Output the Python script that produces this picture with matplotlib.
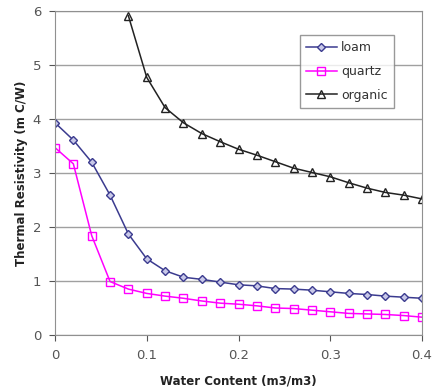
import numpy as np
import matplotlib.pyplot as plt

# water content values (m3/m3)
water = [0.00, 0.02, 0.04, 0.06, 0.08, 0.10, 0.12, 0.14, 0.16, 0.18, 0.20,
         0.22, 0.24, 0.26, 0.28, 0.30, 0.32, 0.34, 0.36, 0.38, 0.40]

loam = [3.93, 3.61, 3.20, 2.59, 1.87, 1.41, 1.19, 1.07, 1.03, 0.98, 0.93,
        0.91, 0.86, 0.85, 0.83, 0.80, 0.77, 0.75, 0.72, 0.70, 0.68]

quartz = [3.47, 3.17, 1.84, 0.99, 0.85, 0.77, 0.72, 0.68, 0.63, 0.59, 0.57,
          0.54, 0.50, 0.49, 0.46, 0.43, 0.40, 0.39, 0.38, 0.36, 0.33]

# organic starts at 0.08
organic_x = water[4:]
organic = [5.91, 4.77, 4.21, 3.93, 3.73, 3.58, 3.44, 3.33, 3.21, 3.09,
           3.01, 2.93, 2.82, 2.72, 2.64, 2.59, 2.52]

fig = plt.figure(figsize=(4.33, 3.92), dpi=100)
ax = fig.add_axes([55/433, 1 - 335/392, 367/433, 324/392])

ax.plot(water, loam, color='#3b3b8f', marker='D', markersize=4,
        markerfacecolor='#c8c8e8', markeredgecolor='#3b3b8f', lw=1.1, label='loam')
ax.plot(water, quartz, color='#ff00ff', marker='s', markersize=5.5,
        markerfacecolor='none', markeredgecolor='#ff00ff', lw=1.1, label='quartz')
ax.plot(organic_x, organic, color='#222222', marker='^', markersize=5.5,
        markerfacecolor='none', markeredgecolor='#222222', lw=1.1, label='organic')

ax.set_xlim(0, 0.4)
ax.set_ylim(0, 6)
ax.set_xticks([0, 0.1, 0.2, 0.3, 0.4])
ax.set_xticklabels(['0', '0.1', '0.2', '0.3', '0.4'])
ax.set_yticks(range(7))
ax.yaxis.grid(True, color='#a0a0a0', lw=1)
ax.set_axisbelow(True)

for s in ax.spines.values():
    s.set_color('#909090')
ax.tick_params(colors='#555555', labelsize=9.5, length=4, direction='out')
ax.tick_params(axis='x', pad=6)
ax.tick_params(axis='y', pad=6)

ax.set_xlabel('Water Content (m3/m3)', fontsize=8.5, fontweight='bold', color='#222222', labelpad=9)
ax.set_ylabel('Thermal Resistivity (m C/W)', fontsize=8.5, fontweight='bold', color='#222222', labelpad=3)

leg = ax.legend(loc='upper right', bbox_to_anchor=(0.94, 0.945), fontsize=9,
                frameon=True, fancybox=False, handlelength=2.5, borderpad=0.5,
                labelspacing=0.85, handletextpad=0.3)
leg.get_frame().set_edgecolor('#808080')
leg.get_frame().set_linewidth(1)
for t in leg.get_texts():
    t.set_color('#333333')

fig.savefig('out.png', dpi=100)
